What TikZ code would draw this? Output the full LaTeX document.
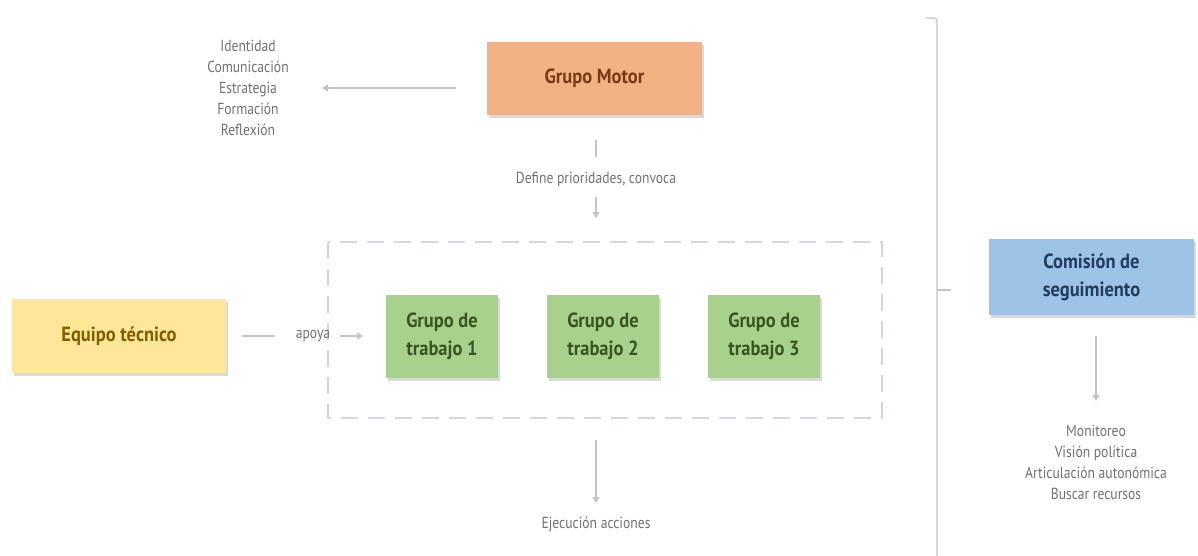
\documentclass[tikz,border=0pt]{standalone}
\usepackage{fontspec}
\setmainfont{PT Sans}
\newfontfamily\notefont[FakeStretch=0.85]{PT Sans}
\newfontfamily\boxfont[FakeStretch=0.9]{PT Sans}
\usetikzlibrary{shadows,arrows.meta}
\definecolor{gtext}{HTML}{707070}
\definecolor{gline}{HTML}{C4C4C4}
\definecolor{orfill}{HTML}{F4B183}
\definecolor{ortext}{HTML}{7A3A12}
\definecolor{yefill}{HTML}{FFE699}
\definecolor{yetext}{HTML}{7F6000}
\definecolor{grfill}{HTML}{A9D18E}
\definecolor{grtext}{HTML}{37561F}
\definecolor{blfill}{HTML}{9DC3E6}
\definecolor{bltext}{HTML}{1F3E5E}
\definecolor{dashc}{HTML}{CFD6E0}
\tikzset{
  box/.style={minimum width=#1, inner sep=0pt, align=center, font=\boxfont\fontsize{20.5}{28}\selectfont\bfseries,
    drop shadow={opacity=0.3, shadow xshift=2pt, shadow yshift=-3pt}},
  note/.style={text=gtext, align=center, font=\notefont\fontsize{16}{21}\selectfont, inner sep=0pt},
  conn/.style={draw=gline, line width=1.2pt},
  arr/.style={conn, -{Triangle[length=6pt,width=7pt]}},
}
\begin{document}
\begin{tikzpicture}[x=1pt,y=-1pt]
\useasboundingbox (0,0) rectangle (1198,556);
% dashed frame
\draw[dashc, line width=2pt, dash pattern=on 17pt off 10pt] (328,242) rectangle (882,418);
% nodes
\node[box=215pt, minimum height=73pt, fill=orfill, text=ortext] (motor) at (594.5,78.5) {Grupo Motor};
\node[box=214pt, minimum height=74pt, fill=yefill, text=yetext] (equipo) at (119,336) {Equipo técnico};
\node[box=112pt, minimum height=83pt, fill=grfill, text=grtext] (g1) at (442,336.5) {Grupo de\\trabajo 1};
\node[box=112pt, minimum height=83pt, fill=grfill, text=grtext] (g2) at (603,336.5) {Grupo de\\trabajo 2};
\node[box=112pt, minimum height=83pt, fill=grfill, text=grtext] (g3) at (764,336.5) {Grupo de\\trabajo 3};
\node[box=205pt, minimum height=76pt, fill=blfill, text=bltext] (comision) at (1091.5,277) {Comisión de\\seguimiento};
% notes
\node[note] (list) at (248,88) {Identidad\\Comunicación\\Estrategia\\Formación\\Reflexión};
\node[note] (define) at (596,179) {Define prioridades, convoca};
\node[note] (apoya) at (313,336) {apoya};
\node[note] (ejec) at (596,524) {Ejecución acciones};
\node[note] (monit) at (1096,462.5) {Monitoreo\\Visión política\\Articulación autonómica\\Buscar recursos};
% coordinates
\coordinate (mL) at (456,88);
\coordinate (lR) at (322,88);
\coordinate (dTop) at (596,140);
\coordinate (dBot) at (596,157);
\coordinate (aTop) at (596,197);
\coordinate (aBot) at (596,218);
\coordinate (eqA) at (242,336);
\coordinate (eqB) at (275,336);
\coordinate (apA) at (340,336);
\coordinate (apB) at (363,336);
\coordinate (exA) at (596,440);
\coordinate (exB) at (596,503);
\coordinate (cA) at (1096,336);
\coordinate (cB) at (1096,401);
\coordinate (brT) at (926,18);
\coordinate (brB) at (937,556);
\coordinate (brM) at (937,290);
\coordinate (brMe) at (951,290);
% connectors
\draw[arr] (mL) -- (lR);
\draw[conn] (dTop) -- (dBot);
\draw[arr] (aTop) -- (aBot);
\draw[conn] (eqA) -- (eqB);
\draw[arr] (apA) -- (apB);
\draw[arr] (exA) -- (exB);
\draw[arr] (cA) -- (cB);
\draw[conn, rounded corners=3pt] (brT) -| (brB);
\draw[conn] (brM) -- (brMe);
\end{tikzpicture}
\end{document}
